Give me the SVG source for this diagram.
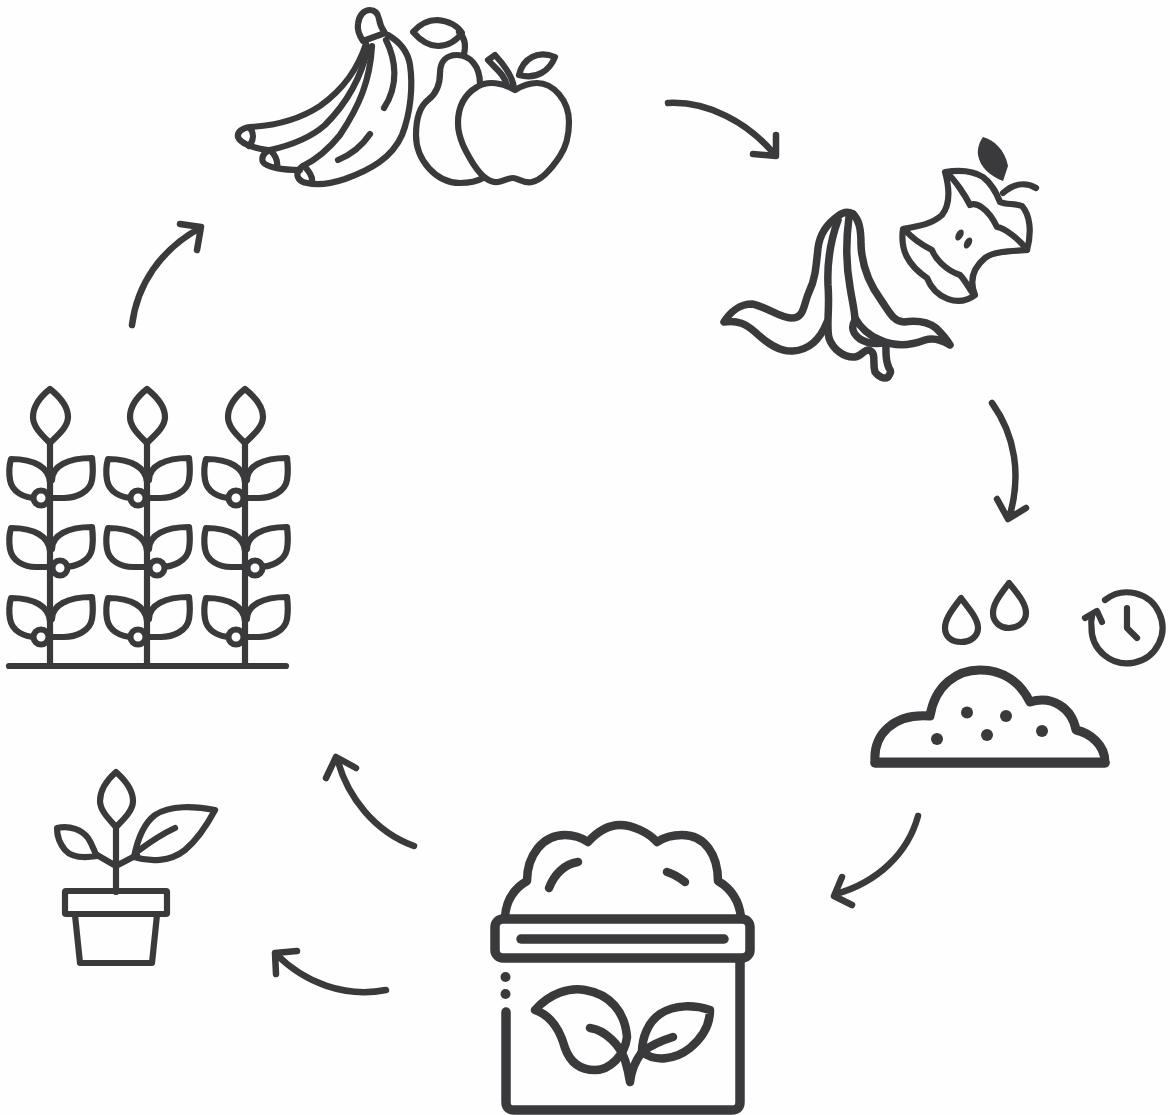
<svg xmlns="http://www.w3.org/2000/svg" width="1170" height="1115" viewBox="0 0 1170 1115">
<style>
.s{fill:none;stroke:#3a3a3c;stroke-width:6.2;stroke-linecap:round;stroke-linejoin:round}
.t{stroke-width:7.5}
.b{stroke-width:8.5}
.h{stroke-width:9.5}
.k{fill:#3a3a3c;stroke:none}
.a{fill:none;stroke:#3a3a3c;stroke-width:6.5;stroke-linecap:round;stroke-linejoin:round}
.c{fill:#fefefe;stroke:#3a3a3c;stroke-width:6}
</style>
<defs>
<g id="row">
<path class="s" d="M50 482C49 468 35 459 11 459C9 466 9 474 10 480C12 492 24 498 36 498L50 498"/>
<path class="s" d="M52 480C52 466 68 458 92 458C93 466 93 474 92 480C90 492 76 498 64 498L50 498"/>
</g>
<g id="col">
<path class="s" d="M50 389C40 397 33 407 33 417C33 427 42 435 50 443C58 435 68 427 68 417C68 407 60 397 50 389Z"/>
<path class="s" d="M50 443V666"/>
<use href="#row"/>
<use href="#row" y="69"/>
<use href="#row" y="139"/>
<circle cx="41" cy="498" r="7.500" class="c"/>
<circle cx="60" cy="568" r="7.500" class="c"/>
<circle cx="41" cy="637" r="7.500" class="c"/>
</g>
</defs>
<rect width="1170" height="1115" fill="#fefefe"/>
<g id="fruit">
<path class="s" d="M363 41C359 35 357 30 358 24C359 15 364 10 370 10C376 10 378 14 379 19C380 25 382 29 385 33Z"/>
<path class="s" d="M388 35C400 42 408 52 410 65C413 85 411 112 402 135C392 158 370 170 345 179C330 184 316 185 307 183C299 182 296 176 298 172C299 169 301 167 303 166"/>
<path class="s" d="M366 44C358 68 345 88 320 106C297 121 270 126 250 127C242 128 237 132 238 137C240 143 252 148 268 150"/>
<path class="s" d="M368 47C362 75 350 100 325 125C308 140 288 146 270 150C264 152 261 157 263 162C266 167 282 170 300 170"/>
<path class="s" d="M372 46C370 80 360 105 340 135C328 150 315 160 303 166"/>
<path class="s" d="M386 40C396 60 399 85 384 108"/>
<path class="s" d="M338 160C350 155 362 146 370 134"/>
<path class="s" d="M250 128C254 133 254 140 249 146M271 151C276 156 278 162 277 168M304 166C309 171 313 176 312 182"/>
<path class="s" d="M413 32C420 24 428 20 437 20C448 21 457 25 462 33C456 41 448 46 438 46C428 46 420 40 413 32Z"/>
<path class="s" d="M459 32C465 38 466 46 464 54"/>
<path class="s" d="M480 84C480 66 470 55 457 55C446 55 440 62 440 73C440 86 436 94 428 100C418 108 416 122 416 135C416 160 436 183 460 183C468 183 476 182 483 178"/>
<path class="s" d="M515 90C503 83 488 80 477 87C462 96 458 110 458 123C458 140 468 155 474 165C482 177 490 183 498 182C504 181 508 178 513 178C518 178 524 184 532 182C542 180 552 168 560 156C568 144 569 132 569 122C569 100 553 83 537 83C527 83 520 87 515 90Z"/>
<path class="s" d="M514 88C513 78 507 68 495 55L488 60C497 70 505 75 507 86"/>
<path class="s" d="M519 75C523 58 538 50 555 57C550 70 537 80 519 75Z"/>
</g>
<g id="waste">
<path class="k" d="M983 137C994 140 1005 150 1008 166L1003 181C990 176 980 167 978 155C977 148 980 141 983 137Z"/>
<path class="s" d="M1003 193C1012 185 1024 181 1036 188"/>
<path class="s" d="M945 172C950 190 950 205 942 215C932 224 920 226 903 229C900 250 908 265 927 278C935 298 958 308 975 295C969 280 973 268 985 258C994 251 1012 251 1027 250C1032 232 1030 215 1022 206C1015 203 1006 205 1000 202C996 192 992 184 983 177C972 170 958 170 945 172Z"/>
<path class="s" d="M947 173C955 180 965 195 970 205C976 202 988 208 997 227C1005 228 1020 240 1027 250"/>
<path class="s" d="M905 230C912 238 922 245 932 250C935 258 945 270 960 275C965 280 970 290 974 295"/>
<ellipse class="k" cx="959.500" cy="235" rx="3.500" ry="6" transform="rotate(30 959.500 235)"/>
<ellipse class="k" cx="968" cy="243" rx="3.500" ry="6" transform="rotate(30 968 243)"/>
<path class="s t" d="M853 214C848 211 843 212 838 216C828 223 820 232 818 248C816 268 815 280 809 292C803 305 805 318 791 318C780 318 765 306 752 304C740 304 730 312 724 322C738 320 746 324 755 332C768 344 780 352 793 351C808 350 820 340 827 322"/>
<path class="s t" d="M838 220C830 242 827 262 828 285C830 310 826 325 829 338C833 350 845 358 855 357C862 356 864 349 869 350C877 353 872 362 875 372C878 376 884 380 888 377C890 374 892 372 889 368C885 360 886 352 886 344"/>
<path class="s t" d="M849 217C846 240 846 265 850 287C852 300 855 312 855 320C851 327 852 333 860 339C868 344 876 344 884 343"/>
<path class="s t" d="M853 214C859 220 861 228 861 245C862 268 870 285 881 300C890 313 894 322 904 322C918 320 928 322 936 328C942 334 947 340 950 345C942 340 934 337 925 340C912 345 895 347 880 340C868 335 860 327 855 318"/>
</g>
<g id="soil">
<path class="s" d="M961 598C953 609 945 618 945 628C945 637 952 642 961 642C971 642 978 636 978 628C978 618 968 608 961 598Z"/>
<path class="s" d="M1009 583C1001 594 993 603 993 613C993 622 1000 628 1009 628C1019 628 1026 621 1026 613C1026 603 1017 593 1009 583Z"/>
<path class="s" d="M1105 600A35.500 35.500 0 1 1 1091.500 627C1091 623 1091 620 1092 617"/>
<path class="s" d="M1085 618L1097 611L1102 622"/>
<path class="s" d="M1127 608V628L1137 638"/>
<path class="s b" style="stroke-width:9" d="M875 762C873 735 893 713 930 716C935 685 957 670 980 670C1003 670 1020 682 1030 702C1052 695 1072 708 1076 730C1090 733 1105 745 1105 762Z"/>
<path class="s h" d="M875 763H1105"/>
<circle class="k" cx="967" cy="712.500" r="6"/>
<circle class="k" cx="1006" cy="716" r="6"/>
<circle class="k" cx="987" cy="735" r="6"/>
<circle class="k" cx="1042" cy="731" r="6"/>
<circle class="k" cx="937" cy="739" r="6"/>
</g>
<g id="compost">
<path class="s b" d="M505 917C506 900 515 888 527 881C527 855 543 835 565 835C575 835 582 838 588 842C597 832 608 825 620 825C632 825 648 832 657 842C663 838 672 835 682 835C705 835 718 855 718 881C730 888 739 900 741 917"/>
<rect class="s h" x="495" y="919" width="255" height="39" rx="8"/>
<path class="s h" d="M521 939H724"/>
<path class="s h" d="M740 960V1102Q740 1110 732 1110H514Q506 1110 506 1102V1012"/>
<circle class="k" cx="505.500" cy="977" r="5"/>
<circle class="k" cx="505.500" cy="994" r="5"/>
<path class="s b" d="M549 888C554 875 564 864 578 862M667 872C674 874 680 878 685 882"/>
<path class="s b" d="M535 1010C550 993 570 987 585 990C610 994 625 1012 627 1037C625 1055 610 1070 595 1070C580 1070 570 1062 565 1048C560 1030 550 1015 535 1010Z"/>
<path class="s b" d="M590 1028C605 1030 620 1045 625 1060C628 1070 629 1075 630 1082C631 1072 636 1060 642 1052"/>
<path class="s b" d="M710 1010C695 1005 675 1004 660 1014C648 1022 642 1038 642 1052C655 1062 675 1060 690 1048C702 1038 710 1025 710 1010Z"/>
<path class="s b" d="M642 1052C650 1046 660 1041 673 1037"/>
</g>
<g id="seedling">
<path class="s" d="M116 772C107 780 100 790 100 801C100 811 110 820 116 827C123 820 133 811 133 801C133 790 125 780 116 772Z"/>
<path class="s" d="M116 827V892M116 866L97 855M116 866L137 855"/>
<path class="s" d="M57 828C70 825 82 830 88 838C93 845 94 852 97 856C85 858 72 858 65 850C60 844 57 836 57 828Z"/>
<path class="s" d="M215 810C195 806 170 805 155 815C143 824 137 842 134 857C150 862 170 862 185 850C197 840 207 825 215 810Z"/>
<path class="s" d="M138 851C150 842 162 834 175 828"/>
<rect class="s" x="65" y="891" width="102" height="23" rx="1"/>
<path class="s" d="M75 915L80 963H152L157 915"/>
</g>
<g id="plants">
<use href="#col"/>
<use href="#col" x="97"/>
<use href="#col" x="195"/>
<path class="s" d="M9 666H286"/>
</g>
<g id="connectors">
<path class="a" d="M668 103C707 101 748 122 775 155M776 135L776 156L753 154"/>
<path class="a" d="M992 403C1015 435 1022 475 1009 518M997 499L1008 519L1026 508"/>
<path class="a" d="M918 816C908 853 878 882 836 894M852 905L834 896L842 877"/>
<path class="a" d="M414 846C375 832 347 797 337 758M326 778L336 757L356 768"/>
<path class="a" d="M386 990C345 998 305 983 276 954M297 951L275 953L276 974"/>
<path class="a" d="M132 325C137 285 160 250 200 228M180 224L201 227L197 250"/>
</g>
</svg>
